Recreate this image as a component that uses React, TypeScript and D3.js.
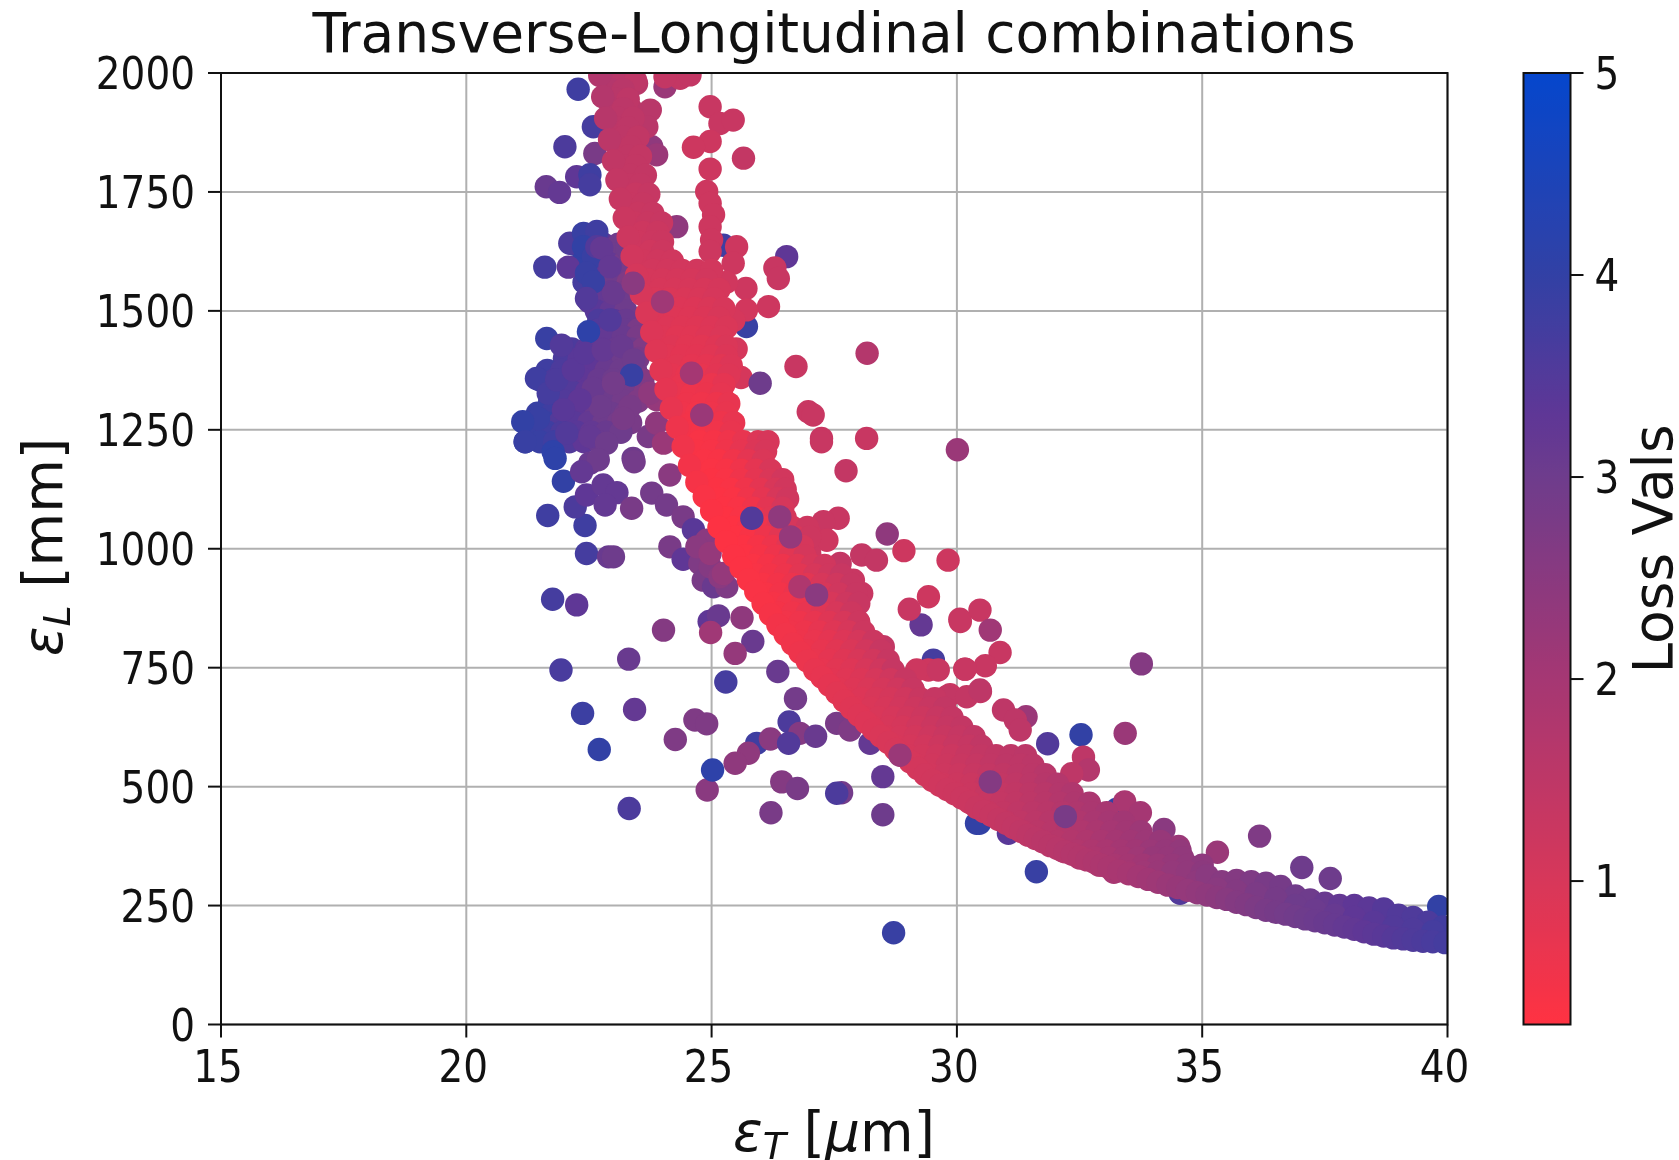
import React from "react";
import * as d3 from "d3";

type P = [number, number, number];
type Row = [number, number[], number[]];

const xTicks = [15, 20, 25, 30, 35, 40];
const yTicks = [0, 250, 500, 750, 1000, 1250, 1500, 1750, 2000];
const lossTicks = [1, 2, 3, 4, 5];
const lossStops = [0.29, 1, 2, 3, 3.3, 4, 5];
const lossColors = ["#ff3242", "#d7375a", "#a53773", "#6e3c8c", "#5f3796", "#3241a5", "#0546cd"];

// scattered points left of the main curve: [emittance T, emittance L, loss]
const leftRows: Row[] = [
  [1640, [22.2, 22.5, 22.8, 23.1], [3.7, 4.0, 3.4, 3.0]],
  [1620, [22.5, 22.8, 23.05], [3.9, 3.5, 3.0]],
  [1600, [22.35, 22.65, 22.9, 23.2], [4.0, 3.7, 3.2, 2.9]],
  [1580, [22.55, 22.85, 23.15], [3.8, 3.3, 2.9]],
  [1560, [22.4, 22.7, 23.0, 23.3], [3.7, 3.5, 3.0, 2.7]],
  [1540, [22.65, 22.95, 23.25], [3.5, 3.1, 2.8]],
  [1520, [22.5, 22.8, 23.1], [3.4, 3.2, 3.0]],
  [1500, [22.65, 22.95, 23.25], [3.4, 3.2, 3.0]],
  [1480, [22.7, 23.0, 23.25], [3.6, 3.4, 3.1]],
  [1460, [22.7, 22.95, 23.25, 23.5], [3.5, 3.3, 3.1, 2.8]],
  [1445, [22.9, 23.2, 23.5], [3.2, 3.1, 2.8]],
  [1420, [22.15, 22.45, 22.75, 23.05, 23.35, 23.6], [3.6, 3.4, 3.2, 3.1, 3.0, 2.7]],
  [1400, [22.0, 22.3, 22.6, 22.9, 23.2, 23.5], [3.6, 3.4, 3.2, 3.1, 3.0, 2.8]],
  [1375, [21.65, 21.95, 22.25, 22.55, 22.85, 23.15, 23.45], [3.8, 3.6, 3.5, 3.3, 3.1, 3.0, 2.9]],
  [1355, [21.5, 21.8, 22.1, 22.4, 22.7, 23.0, 23.3, 23.6], [3.8, 3.6, 3.5, 3.3, 3.1, 3.0, 2.9, 2.6]],
  [1330, [21.85, 22.15, 22.45, 22.75, 23.05, 23.35, 23.65], [3.7, 3.5, 3.3, 3.1, 3.0, 2.9, 2.7]],
  [1310, [21.7, 22.0, 22.3, 22.6, 22.9, 23.2, 23.5], [3.8, 3.5, 3.3, 3.1, 3.0, 2.9, 2.7]],
  [1285, [21.45, 21.75, 22.05, 22.35, 22.65, 22.95, 23.25], [3.9, 3.8, 3.5, 3.3, 3.1, 3.0, 2.9]],
  [1265, [21.3, 21.6, 21.9, 22.2, 22.5, 22.8, 23.1, 23.35], [4.0, 3.9, 3.5, 3.4, 3.2, 3.0, 2.9, 2.8]],
  [1245, [21.35, 21.65, 21.95, 22.25, 22.55, 22.85, 23.15], [3.9, 3.8, 3.6, 3.4, 3.2, 3.1, 3.0]],
  [1225, [21.2, 21.5, 21.8, 22.1, 22.4, 22.7], [3.9, 3.9, 3.8, 3.5, 3.3, 3.1]],
];

const leftScatter: P[] = [
  [22.28, 1966, 3.8], [23.07, 1954, 4.0], [22.59, 1887, 3.7], [22.01, 1845, 3.6], [22.62, 1831, 2.8],
  [22.25, 1782, 3.3], [22.52, 1786, 3.8], [22.52, 1765, 3.7], [21.63, 1761, 3.1], [21.9, 1749, 3.2],
  [23.78, 1845, 2.4], [23.88, 1828, 2.2], [24.05, 1971, 2.2], [24.29, 1677, 2.4],
  [21.6, 1592, 3.7], [22.08, 1592, 3.3], [22.11, 1642, 3.6], [22.39, 1663, 3.9], [22.66, 1667, 3.8],
  [22.39, 1635, 4.0], [22.59, 1614, 3.9], [22.45, 1579, 3.9], [22.66, 1635, 3.5], [22.76, 1632, 3.2],
  [22.59, 1561, 3.9], [22.45, 1526, 3.5], [23.0, 1537, 3.1], [22.93, 1593, 3.2], [23.27, 1632, 3.0],
  [23.41, 1621, 2.9], [22.93, 1481, 3.5], [22.49, 1456, 4.1], [21.64, 1442, 3.9], [21.94, 1428, 3.5],
  [21.43, 1358, 3.8], [21.67, 1327, 3.7], [21.84, 1355, 3.6], [22.18, 1376, 3.4], [22.42, 1411, 3.4],
  [22.79, 1418, 3.2], [23.17, 1425, 3.1], [23.41, 1397, 3.0], [23.37, 1365, 3.9], [22.59, 1337, 3.1],
  [23.0, 1348, 2.9], [23.34, 1299, 2.8], [23.2, 1274, 2.8], [22.73, 1299, 3.0], [22.32, 1313, 3.3],
  [21.98, 1292, 3.4], [21.47, 1274, 3.9], [21.15, 1267, 4.0], [21.2, 1225, 3.9], [21.77, 1204, 4.1],
  [22.05, 1243, 3.5], [22.52, 1236, 3.2], [22.86, 1222, 3.0], [23.71, 1236, 2.8], [23.4, 1190, 3.0],
  [23.88, 1313, 2.3], [23.88, 1264, 2.4], [24.02, 1222, 2.2], [23.74, 1327, 2.4],
  [22.45, 990, 3.7], [22.9, 983, 3.1], [23.0, 983, 3.0], [21.66, 1070, 3.8], [22.42, 1049, 3.8],
  [22.22, 1088, 3.6], [22.45, 1113, 3.3], [22.79, 1134, 3.2], [23.07, 1118, 3.2], [22.83, 1092, 3.2],
  [23.37, 1085, 2.8], [23.42, 1183, 2.9], [21.98, 1142, 4.0], [21.81, 1190, 4.1], [22.52, 1180, 3.1],
  [22.69, 1187, 3.0], [22.35, 1162, 3.2], [23.78, 1117, 2.9], [24.08, 1092, 2.9], [24.42, 1067, 2.8],
  [24.15, 1155, 2.5], [24.63, 1040, 3.4], [24.15, 1004, 2.8], [24.42, 978, 3.3], [24.9, 1018, 2.5],
  [24.76, 969, 2.7], [24.83, 934, 2.8], [25.04, 920, 3.1], [25.31, 920, 2.7], [24.97, 962, 2.6],
  [25.17, 941, 2.5], [24.7, 1004, 2.5], [24.97, 990, 2.3], [25.24, 948, 2.3],
  [23.32, 454, 3.6], [22.71, 578, 4.0], [22.37, 654, 3.85], [21.93, 745, 3.65], [21.76, 894, 3.7],
  [22.25, 882, 3.3], [23.31, 768, 3.1], [23.43, 662, 3.2], [24.26, 599, 2.7], [24.66, 640, 2.7],
  [24.9, 632, 2.7], [24.91, 493, 2.5], [25.02, 535, 4.1], [25.29, 720, 3.7], [25.84, 805, 3.1],
  [25.48, 780, 2.3], [25.62, 855, 2.4], [24.95, 847, 3.3], [25.14, 859, 3.1], [24.98, 824, 2.1],
  [24.02, 829, 2.6], [26.35, 742, 3.1], [26.71, 685, 2.9], [26.58, 636, 3.6], [25.92, 591, 3.8],
  [26.8, 612, 2.6], [27.12, 606, 3.1], [26.2, 600, 2.5], [26.57, 591, 3.5], [25.75, 570, 2.4],
  [25.48, 549, 2.4], [26.43, 510, 2.6], [26.75, 496, 2.8], [26.21, 445, 2.8], [27.65, 487, 2.9],
  [27.55, 486, 3.6], [28.49, 521, 3.2], [28.49, 441, 3.0], [27.55, 633, 2.8], [27.82, 619, 2.7],
  [28.23, 591, 3.2], [30.4, 423, 4.0], [28.71, 193, 3.9], [31.62, 321, 3.9], [30.46, 423, 4.0],
  [31.05, 402, 3.4], [34.55, 276, 3.5], [25.24, 1638, 3.8], [26.53, 1614, 3.3], [25.71, 1467, 3.9],
  [29.27, 840, 3.2], [29.52, 766, 3.7], [33.25, 452, 4.0], [32.53, 609, 4.0], [31.85, 590, 3.5],
];

// scattered points right of the main curve
const rightScatter: P[] = [
  [24.97, 1929, 1.3], [25.17, 1894, 1.3], [25.44, 1901, 1.3], [24.97, 1856, 1.2], [24.63, 1844, 1.2],
  [25.65, 1821, 1.4], [24.97, 1798, 1.2], [24.9, 1751, 1.2], [24.97, 1726, 1.2], [25.04, 1702, 1.2],
  [24.97, 1677, 1.2], [25.0, 1649, 1.2], [24.97, 1625, 1.2], [25.51, 1635, 1.2], [26.29, 1590, 1.3],
  [26.36, 1568, 1.3], [25.7, 1547, 1.2], [26.16, 1509, 1.2], [25.71, 1502, 1.1], [25.44, 1600, 1.2],
  [25.3, 1560, 1.15], [25.45, 1480, 1.05], [25.5, 1420, 1.05], [25.6, 1360, 1.05],
  [28.17, 1411, 1.7], [26.72, 1383, 1.3], [26.97, 1288, 1.3], [27.07, 1281, 1.3], [27.24, 1232, 1.3],
  [28.16, 1232, 1.3], [23.75, 1922, 1.6], [23.68, 1887, 1.6], [24.36, 1989, 1.4], [24.56, 1996, 1.4],
  [24.05, 1992, 1.4], [23.47, 1978, 1.6], [23.35, 1925, 1.6],
  [27.74, 1164, 1.4], [27.24, 1225, 1.3], [30.01, 1208, 2.2], [28.58, 1031, 2.4], [28.92, 996, 1.2],
  [29.82, 976, 1.2], [29.42, 899, 1.2], [29.03, 873, 1.3], [30.06, 852, 1.3], [30.47, 871, 1.3],
  [29.42, 745, 1.2], [29.18, 745, 1.2], [29.62, 745, 1.3], [30.16, 747, 1.3], [30.07, 847, 1.3],
  [30.68, 829, 2.1], [30.88, 782, 1.3], [30.58, 754, 1.3], [30.17, 747, 1.3], [33.76, 758, 2.6],
  [33.43, 612, 2.2], [32.58, 562, 1.5], [32.68, 535, 1.7], [32.34, 527, 1.5], [33.42, 468, 1.9],
  [33.74, 445, 2.0], [34.22, 410, 2.5], [34.52, 374, 2.2], [35.31, 362, 2.2], [36.17, 396, 2.7],
  [37.03, 330, 3.0], [37.61, 307, 3.0], [39.82, 248, 4.0], [31.41, 647, 2.2], [30.95, 661, 1.5],
  [31.19, 640, 1.5], [31.29, 619, 1.5], [30.48, 700, 1.4], [29.86, 693, 1.3],
  [27.58, 1064, 1.3], [27.28, 1057, 1.3], [27.0, 1032, 1.2], [27.35, 1018, 1.2], [27.0, 990, 1.2],
  [27.62, 969, 1.4], [28.06, 987, 1.4], [28.36, 976, 1.4], [27.89, 934, 1.3], [28.06, 906, 1.3],
  [27.62, 920, 1.2], [27.99, 847, 1.3], [28.5, 794, 1.4], [28.57, 752, 1.4], [29.11, 703, 1.4],
  [29.79, 689, 1.4], [30.2, 689, 1.4], [30.47, 703, 1.5],
];

// filled rows of the main band: [emittance L, emittance T list, loss list]
const bandRows: Row[] = [
  [1985, [22.9, 23.2, 23.45], [1.7, 1.6, 1.5]],
  [1965, [22.95, 23.2], [1.7, 1.6]],
  [1945, [23.05, 23.3], [1.6, 1.5]],
  [1925, [22.95, 23.2], [1.65, 1.55]],
  [1905, [23.1, 23.4], [1.55, 1.5]],
  [1885, [23.05, 23.3], [1.55, 1.5]],
  [1865, [23.2, 23.5], [1.5, 1.45]],
  [1845, [23.1, 23.35], [1.5, 1.45]],
  [1825, [23.3, 23.55], [1.45, 1.4]],
  [1805, [23.2, 23.45], [1.45, 1.4]],
  [1785, [23.35, 23.65], [1.4, 1.4]],
  [1765, [23.3, 23.55], [1.38, 1.38]],
  [1745, [23.45, 23.72], [1.3, 1.35]],
  [1725, [23.35, 23.6], [1.3, 1.32]],
  [1705, [23.5, 23.8], [1.28, 1.3]],
  [1685, [23.42, 23.7, 23.98], [1.25, 1.28, 1.3]],
  [1665, [23.6, 23.9], [1.2, 1.25]],
  [1645, [23.5, 23.8, 24.0], [1.18, 1.22, 1.25]],
  [1625, [23.75, 24.0], [1.15, 1.2]],
  [1605, [23.6, 23.9, 24.2], [1.12, 1.15, 1.15]],
  [1585, [23.8, 24.1, 24.4, 24.7, 25.0], [1.1, 1.1, 1.1, 1.1, 1.1]],
  [1565, [23.7, 24.0, 24.3, 24.6, 24.9], [1.05, 1.05, 1.05, 1.05, 1.1]],
  [1545, [23.95, 24.25, 24.55, 24.85, 25.15], [1.0, 1.0, 1.0, 1.0, 1.05]],
  [1525, [23.85, 24.15, 24.45, 24.75, 25.05], [0.97, 0.95, 0.95, 0.97, 1.02]],
  [1505, [24.05, 24.35, 24.65, 24.95, 25.25], [0.95, 0.9, 0.9, 0.95, 1.0]],
  [1485, [23.95, 24.25, 24.55, 24.85, 25.15], [0.92, 0.88, 0.88, 0.92, 0.98]],
  [1465, [24.1, 24.4, 24.7, 25.0, 25.3], [0.9, 0.85, 0.85, 0.9, 0.95]],
  [1445, [24.0, 24.3, 24.6, 24.9, 25.2], [0.88, 0.82, 0.82, 0.88, 0.93]],
  [1425, [24.2, 24.5, 24.8, 25.1, 25.3], [0.85, 0.8, 0.8, 0.85, 0.95]],
  [1405, [24.1, 24.4, 24.7, 25.0, 25.3], [0.82, 0.78, 0.78, 0.82, 0.92]],
  [1385, [24.3, 24.6, 24.9, 25.2, 25.4], [0.8, 0.75, 0.75, 0.8, 0.9]],
  [1365, [24.2, 24.5, 24.8, 25.1, 25.35], [0.75, 0.7, 0.7, 0.78, 0.88]],
  [1345, [24.4, 24.7, 25.0, 25.25], [0.7, 0.65, 0.65, 0.75]],
  [1325, [24.3, 24.6, 24.9, 25.2], [0.68, 0.6, 0.62, 0.72]],
  [1305, [24.5, 24.8, 25.1, 25.35], [0.6, 0.55, 0.6, 0.7]],
  [1285, [24.4, 24.7, 25.0, 25.3], [0.58, 0.52, 0.58, 0.68]],
  [1265, [24.6, 24.9, 25.2, 25.45], [0.5, 0.5, 0.6, 0.7]],
  [1245, [24.5, 24.8, 25.1, 25.4], [0.5, 0.47, 0.55, 0.68]],
  [1225, [24.75, 25.05, 25.35, 25.65, 25.95, 26.15], [0.42, 0.45, 0.55, 0.7, 0.9, 1.0]],
  [1205, [24.7, 25.0, 25.3, 25.6, 25.9, 26.1], [0.42, 0.44, 0.55, 0.72, 0.92, 1.0]],
  [1185, [24.85, 25.15, 25.45, 25.75, 26.05], [0.4, 0.42, 0.55, 0.75, 0.95]],
  [1165, [25.0, 25.3, 25.6, 25.9, 26.2], [0.38, 0.42, 0.55, 0.75, 0.98]],
  [1145, [25.0, 25.3, 25.6, 25.9, 26.2, 26.45], [0.36, 0.4, 0.55, 0.75, 0.95, 1.1]],
  [1125, [25.1, 25.4, 25.7, 26.0, 26.3, 26.5], [0.36, 0.4, 0.55, 0.75, 0.98, 1.12]],
  [1105, [25.15, 25.45, 25.75, 26.05, 26.35, 26.55], [0.35, 0.38, 0.55, 0.75, 1.0, 1.15]],
  [1085, [25.25, 25.55, 25.85, 26.15, 26.45], [0.34, 0.4, 0.55, 0.78, 1.02]],
  [1065, [25.3, 25.6, 25.9, 26.2, 26.5], [0.33, 0.4, 0.55, 0.8, 1.05]],
  [1045, [25.45, 25.75, 26.05, 26.35, 26.65, 26.95], [0.33, 0.42, 0.58, 0.8, 1.02, 1.2]],
  [1025, [25.5, 25.8, 26.1, 26.4, 26.7, 27.0], [0.33, 0.42, 0.6, 0.8, 1.0, 1.2]],
  [1005, [25.65, 25.95, 26.25, 26.55, 26.85], [0.34, 0.45, 0.6, 0.8, 1.03]],
  [985, [25.7, 26.0, 26.3, 26.6, 26.9], [0.35, 0.45, 0.6, 0.8, 1.05]],
  [965, [25.85, 26.15, 26.45, 26.75, 27.05, 27.3], [0.38, 0.47, 0.6, 0.8, 1.0, 1.15]],
  [945, [25.9, 26.2, 26.5, 26.8, 27.1, 27.4, 27.65], [0.4, 0.48, 0.6, 0.8, 1.0, 1.15, 1.3]],
  [925, [26.05, 26.35, 26.65, 26.95, 27.25, 27.55, 27.85], [0.42, 0.5, 0.62, 0.8, 1.0, 1.15, 1.3]],
  [905, [26.1, 26.4, 26.7, 27.0, 27.3, 27.6, 27.95], [0.42, 0.5, 0.62, 0.8, 1.0, 1.15, 1.3]],
  [885, [26.25, 26.55, 26.85, 27.15, 27.45, 27.75, 28.0], [0.45, 0.52, 0.65, 0.82, 1.0, 1.18, 1.3]],
  [865, [26.35, 26.65, 26.95, 27.25, 27.55, 27.85], [0.48, 0.55, 0.7, 0.85, 1.0, 1.2]],
  [845, [26.5, 26.8, 27.1, 27.4, 27.7, 28.0], [0.52, 0.58, 0.7, 0.85, 1.0, 1.2]],
  [825, [26.6, 26.9, 27.2, 27.5, 27.8, 28.1], [0.55, 0.6, 0.72, 0.85, 1.0, 1.2]],
  [805, [26.8, 27.1, 27.4, 27.7, 28.0, 28.3], [0.6, 0.66, 0.76, 0.9, 1.05, 1.25]],
  [785, [26.95, 27.25, 27.55, 27.85, 28.15, 28.45], [0.62, 0.7, 0.8, 0.95, 1.1, 1.3]],
  [765, [27.1, 27.4, 27.7, 28.0, 28.3, 28.6], [0.68, 0.75, 0.85, 0.98, 1.12, 1.32]],
  [745, [27.25, 27.55, 27.85, 28.15, 28.45, 28.7], [0.72, 0.8, 0.88, 1.0, 1.15, 1.35]],
  [725, [27.45, 27.75, 28.05, 28.35, 28.65, 28.95], [0.78, 0.84, 0.92, 1.02, 1.15, 1.32]],
  [705, [27.6, 27.9, 28.2, 28.5, 28.8, 29.1], [0.82, 0.88, 0.95, 1.05, 1.15, 1.3]],
  [685, [27.75, 28.05, 28.35, 28.65, 28.95, 29.25, 29.55], [0.85, 0.9, 0.98, 1.05, 1.15, 1.28, 1.35]],
  [665, [27.95, 28.25, 28.55, 28.85, 29.15, 29.45, 29.75], [0.88, 0.95, 1.0, 1.1, 1.2, 1.3, 1.4]],
  [645, [28.1, 28.4, 28.7, 29.0, 29.3, 29.6, 29.9], [0.92, 0.97, 1.02, 1.12, 1.2, 1.3, 1.38]],
  [625, [28.3, 28.6, 28.9, 29.2, 29.5, 29.8, 30.1], [0.95, 1.0, 1.05, 1.15, 1.25, 1.35, 1.4]],
  [605, [28.55, 28.85, 29.15, 29.45, 29.75, 30.05, 30.35], [0.98, 1.02, 1.08, 1.18, 1.28, 1.35, 1.42]],
  [585, [28.75, 29.05, 29.35, 29.65, 29.95, 30.25, 30.5], [1.0, 1.05, 1.1, 1.2, 1.3, 1.35, 1.45]],
  [565, [29.0, 29.3, 29.6, 29.9, 30.2, 30.5, 30.8, 31.1, 31.4], [1.05, 1.08, 1.15, 1.22, 1.32, 1.4, 1.45, 1.5, 1.55]],
  [545, [29.2, 29.5, 29.8, 30.1, 30.4, 30.7, 31.0, 31.3, 31.55], [1.08, 1.12, 1.2, 1.28, 1.35, 1.42, 1.5, 1.5, 1.55]],
  [525, [29.45, 29.75, 30.05, 30.35, 30.65, 30.95, 31.25, 31.55, 31.8], [1.1, 1.18, 1.22, 1.3, 1.38, 1.45, 1.5, 1.55, 1.62]],
  [505, [29.7, 30.0, 30.3, 30.6, 30.9, 31.2, 31.5, 31.8, 32.05], [1.15, 1.2, 1.25, 1.35, 1.4, 1.47, 1.55, 1.65, 1.7]],
  [485, [30.0, 30.3, 30.6, 30.9, 31.2, 31.5, 31.8, 32.1, 32.35], [1.2, 1.25, 1.32, 1.38, 1.45, 1.52, 1.6, 1.7, 1.78]],
  [465, [30.3, 30.6, 30.9, 31.2, 31.5, 31.8, 32.1, 32.4, 32.7], [1.25, 1.3, 1.38, 1.45, 1.52, 1.6, 1.7, 1.8, 1.88]],
  [445, [30.65, 30.95, 31.25, 31.55, 31.85, 32.15, 32.45, 32.75, 33.05], [1.32, 1.4, 1.47, 1.55, 1.6, 1.7, 1.8, 1.88, 1.95]],
  [425, [31.0, 31.3, 31.6, 31.9, 32.2, 32.5, 32.8, 33.1, 33.4], [1.4, 1.47, 1.55, 1.62, 1.7, 1.8, 1.9, 1.98, 2.05]],
  [405, [31.35, 31.65, 31.95, 32.25, 32.55, 32.85, 33.15, 33.45, 33.75], [1.5, 1.57, 1.62, 1.7, 1.78, 1.88, 1.98, 2.05, 2.15]],
  [385, [31.75, 32.05, 32.35, 32.65, 32.95, 33.25, 33.55, 33.85, 34.15], [1.6, 1.65, 1.72, 1.8, 1.9, 2.0, 2.08, 2.15, 2.25]],
  [365, [32.15, 32.45, 32.75, 33.05, 33.35, 33.65, 33.95, 34.25, 34.55], [1.68, 1.75, 1.82, 1.9, 2.0, 2.08, 2.18, 2.28, 2.32]],
  [350, [32.5, 32.8, 33.1, 33.4, 33.7, 34.0, 34.3, 34.6], [1.75, 1.82, 1.9, 2.0, 2.1, 2.25, 2.28, 2.35]],
  [335, [32.9, 33.2, 33.5, 33.8, 34.1, 34.4, 34.7, 35.0], [1.85, 1.92, 2.0, 2.08, 2.18, 2.28, 2.35, 2.42]],
  [320, [33.2, 33.5, 33.8, 34.1, 34.4, 34.7, 35.0], [1.95, 2.0, 2.1, 2.2, 2.3, 2.35, 2.45]],
];

const tailPoints: P[] = [
  [34.9, 300, 2.4], [35.1, 313, 2.5], [35.4, 300, 2.55], [35.7, 303, 2.6], [36.0, 300, 2.7], [36.3, 297, 2.8],
  [36.6, 290, 2.85], [36.9, 270, 2.95], [37.2, 262, 3.0], [37.5, 255, 3.1], [37.8, 250, 3.2], [38.1, 250, 3.3],
  [38.4, 245, 3.35], [38.7, 243, 3.45], [39.0, 230, 3.5], [39.3, 225, 3.55], [39.6, 215, 3.6], [39.9, 205, 3.75],
  [35.3, 285, 2.5], [35.7, 280, 2.6], [36.1, 275, 2.75], [36.5, 265, 2.85], [36.9, 250, 3.0], [37.3, 240, 3.05],
  [37.7, 230, 3.15], [38.1, 225, 3.3], [38.5, 215, 3.4], [38.9, 205, 3.5], [39.3, 200, 3.55], [39.7, 195, 3.7],
];

// densely populated lower edge of the curve
const edgePoints: P[] = [
  [22.72, 1995, 1.75], [22.78, 1950, 1.7], [22.84, 1905, 1.65], [22.92, 1860, 1.55], [23.0, 1815, 1.45],
  [23.07, 1775, 1.38], [23.14, 1735, 1.32], [23.22, 1695, 1.25], [23.3, 1655, 1.2], [23.38, 1615, 1.1],
  [23.47, 1575, 1.05], [23.57, 1535, 1.0], [23.68, 1495, 0.95], [23.78, 1455, 0.9], [23.87, 1415, 0.85],
  [23.97, 1375, 0.8], [24.07, 1335, 0.75], [24.18, 1295, 0.7], [24.3, 1255, 0.6], [24.42, 1215, 0.55],
  [24.55, 1175, 0.5], [24.7, 1140, 0.45], [24.85, 1110, 0.4], [25.0, 1080, 0.36], [25.15, 1045, 0.33],
  [25.3, 1015, 0.33], [25.45, 985, 0.34], [25.6, 960, 0.35], [25.75, 935, 0.37], [25.9, 910, 0.4],
  [26.05, 885, 0.42], [26.2, 862, 0.45], [26.35, 840, 0.5], [26.5, 820, 0.52], [26.65, 800, 0.55],
  [26.8, 782, 0.6], [26.95, 764, 0.65], [27.1, 745, 0.7], [27.25, 730, 0.72], [27.4, 713, 0.76],
  [27.55, 697, 0.8], [27.7, 680, 0.82], [27.85, 665, 0.85], [28.0, 650, 0.88], [28.15, 635, 0.9],
  [28.3, 620, 0.92], [28.45, 606, 0.95], [28.6, 593, 0.98], [28.75, 578, 1.0], [28.9, 565, 1.02],
  [29.05, 552, 1.05], [29.2, 538, 1.08], [29.35, 525, 1.1], [29.5, 513, 1.12], [29.65, 503, 1.15],
  [29.8, 494, 1.18], [29.95, 485, 1.2], [30.1, 476, 1.22], [30.25, 467, 1.25], [30.4, 456, 1.28],
  [30.55, 448, 1.3], [30.7, 440, 1.33], [30.85, 431, 1.36], [31.0, 423, 1.4], [31.15, 414, 1.43],
  [31.3, 406, 1.47], [31.45, 398, 1.5], [31.6, 391, 1.54], [31.75, 384, 1.58], [31.9, 376, 1.6],
  [32.05, 370, 1.63], [32.2, 363, 1.66], [32.35, 358, 1.7], [32.5, 352, 1.73], [32.65, 346, 1.77],
  [32.8, 341, 1.8], [32.95, 335, 1.85], [33.1, 330, 1.88], [33.3, 323, 1.92], [33.5, 317, 1.97],
  [33.7, 311, 2.02], [33.9, 305, 2.08], [34.1, 299, 2.12], [34.3, 293, 2.2], [34.5, 288, 2.25],
  [34.7, 282, 2.3], [34.9, 277, 2.35], [35.1, 272, 2.4], [35.3, 267, 2.45], [35.5, 263, 2.52],
  [35.7, 257, 2.6], [35.9, 252, 2.65], [36.1, 246, 2.72], [36.3, 240, 2.8], [36.5, 236, 2.85],
  [36.7, 232, 2.9], [36.9, 227, 2.95], [37.1, 222, 3.0], [37.3, 218, 3.05], [37.5, 214, 3.1],
  [37.7, 209, 3.15], [37.9, 205, 3.2], [38.1, 200, 3.25], [38.3, 195, 3.3], [38.5, 190, 3.35],
  [38.7, 186, 3.4], [38.9, 182, 3.45], [39.1, 180, 3.5], [39.3, 177, 3.55], [39.5, 175, 3.6],
  [39.7, 174, 3.65], [39.95, 172, 3.7],
];

// points that lie above the dense band
const topPoints: P[] = [
  [24.0, 1519, 2.1], [23.4, 1558, 2.5], [24.59, 1369, 2.0], [24.8, 1281, 2.2], [25.99, 1348, 3.0],
  [25.82, 1064, 3.5], [26.39, 1067, 2.4], [26.61, 1025, 2.3], [26.8, 920, 1.8], [27.14, 903, 2.5],
  [28.84, 566, 2.2], [32.21, 437, 2.8], [30.68, 510, 2.6],
];

const W = 1679;
const H = 1160;
const plot = { left: 221, right: 1447.5, top: 73, bottom: 1024.5 };
const bar = { left: 1523.5, right: 1570.5, top: 73, bottom: 1024.5 };
const FONT = "'DejaVu Sans', sans-serif";
const INK = "#111";
const TICK_FONT = 39;
const TICK_STRETCH = 1.12;

const rowsToPoints = (rows: Row[]): P[] =>
  rows.flatMap(([y, xs, ls]) => xs.map((x, i): P => [x, y, ls[i]]));

export default function App() {
  const x = d3.scaleLinear().domain([15, 40]).range([plot.left, plot.right]);
  const y = d3.scaleLinear().domain([0, 2000]).range([plot.bottom, plot.top]);
  const color = d3.scaleLinear<string>().domain(lossStops).range(lossColors).interpolate(d3.interpolateRgb);
  const lossY = d3.scaleLinear().domain([0.29, 5]).range([bar.bottom, bar.top]);
  const points: P[] = [
    ...rowsToPoints(leftRows),
    ...leftScatter,
    ...rightScatter,
    ...rowsToPoints(bandRows),
    ...tailPoints,
    ...edgePoints,
    ...topPoints,
  ];
  const gradientStops = d3.range(0, 1.0001, 0.02);

  return (
    <svg
      width={W}
      height={H}
      viewBox={`0 0 ${W} ${H}`}
      style={{ position: "absolute", left: 0, top: 0, background: "#fff", fontFamily: FONT, filter: "blur(0.6px)" }}
    >
      <defs>
        <clipPath id="plot-clip">
          <rect x={plot.left} y={plot.top} width={plot.right - plot.left} height={plot.bottom - plot.top} />
        </clipPath>
        <linearGradient id="loss-grad" x1="0" y1="1" x2="0" y2="0">
          {gradientStops.map((t) => (
            <stop key={t} offset={t} stopColor={color(0.29 + t * (5 - 0.29))} />
          ))}
        </linearGradient>
      </defs>

      {xTicks.map((t) => (
        <line key={t} x1={x(t)} x2={x(t)} y1={plot.top} y2={plot.bottom} stroke="#b0b0b0" strokeWidth={2} />
      ))}
      {yTicks.map((t) => (
        <line key={t} x1={plot.left} x2={plot.right} y1={y(t)} y2={y(t)} stroke="#b0b0b0" strokeWidth={2} />
      ))}

      <g clipPath="url(#plot-clip)">
        {points.map((p, i) => (
          <circle key={i} cx={x(p[0])} cy={y(p[1])} r={11.7} fill={color(p[2])} />
        ))}
      </g>

      <rect
        x={plot.left}
        y={plot.top}
        width={plot.right - plot.left}
        height={plot.bottom - plot.top}
        fill="none"
        stroke="#111"
        strokeWidth={2}
      />
      {xTicks.map((t) => (
        <g key={t}>
          <line x1={x(t)} x2={x(t)} y1={plot.bottom} y2={plot.bottom + 13} stroke="#111" strokeWidth={2} />
          <text
            transform={`translate(${x(t) - 3},1082) scale(1,${TICK_STRETCH})`}
            fontSize={TICK_FONT}
            fill={INK}
            textAnchor="middle"
          >
            {t}
          </text>
        </g>
      ))}
      {yTicks.map((t) => (
        <g key={t}>
          <line x1={plot.left - 13} x2={plot.left} y1={y(t)} y2={y(t)} stroke="#111" strokeWidth={2} />
          <text
            transform={`translate(${plot.left - 26},${y(t) + 16}) scale(1,${TICK_STRETCH})`}
            fontSize={TICK_FONT}
            fill={INK}
            textAnchor="end"
          >
            {t}
          </text>
        </g>
      ))}

      <text x={834} y={52} fontSize={55} fill={INK} textAnchor="middle">
        Transverse-Longitudinal combinations
      </text>
      <text x={834} y={1151} fontSize={55} fill={INK} textAnchor="middle">
        <tspan fontStyle="italic">ε</tspan>
        <tspan fontStyle="italic" fontSize={38} dy={8}>T</tspan>
        <tspan dy={-8}> [</tspan>
        <tspan fontStyle="italic">μ</tspan>
        <tspan>m]</tspan>
      </text>
      <text transform="translate(62,547) rotate(-90)" fontSize={55} fill={INK} textAnchor="middle">
        <tspan fontStyle="italic">ε</tspan>
        <tspan fontStyle="italic" fontSize={38} dy={8}>L</tspan>
        <tspan dy={-8}> [mm]</tspan>
      </text>

      <rect
        x={bar.left}
        y={bar.top}
        width={bar.right - bar.left}
        height={bar.bottom - bar.top}
        fill="url(#loss-grad)"
        stroke="#111"
        strokeWidth={2}
      />
      {lossTicks.map((t) => (
        <g key={t}>
          <line x1={bar.right} x2={bar.right + 13} y1={lossY(t)} y2={lossY(t)} stroke="#111" strokeWidth={2} />
          <text
            transform={`translate(${bar.right + 24},${lossY(t) + 16}) scale(1,${TICK_STRETCH})`}
            fontSize={TICK_FONT}
            fill={INK}
          >
            {t}
          </text>
        </g>
      ))}
      <text transform="translate(1672,549) rotate(-90)" fontSize={55} fill={INK} textAnchor="middle">
        Loss Vals
      </text>
    </svg>
  );
}
